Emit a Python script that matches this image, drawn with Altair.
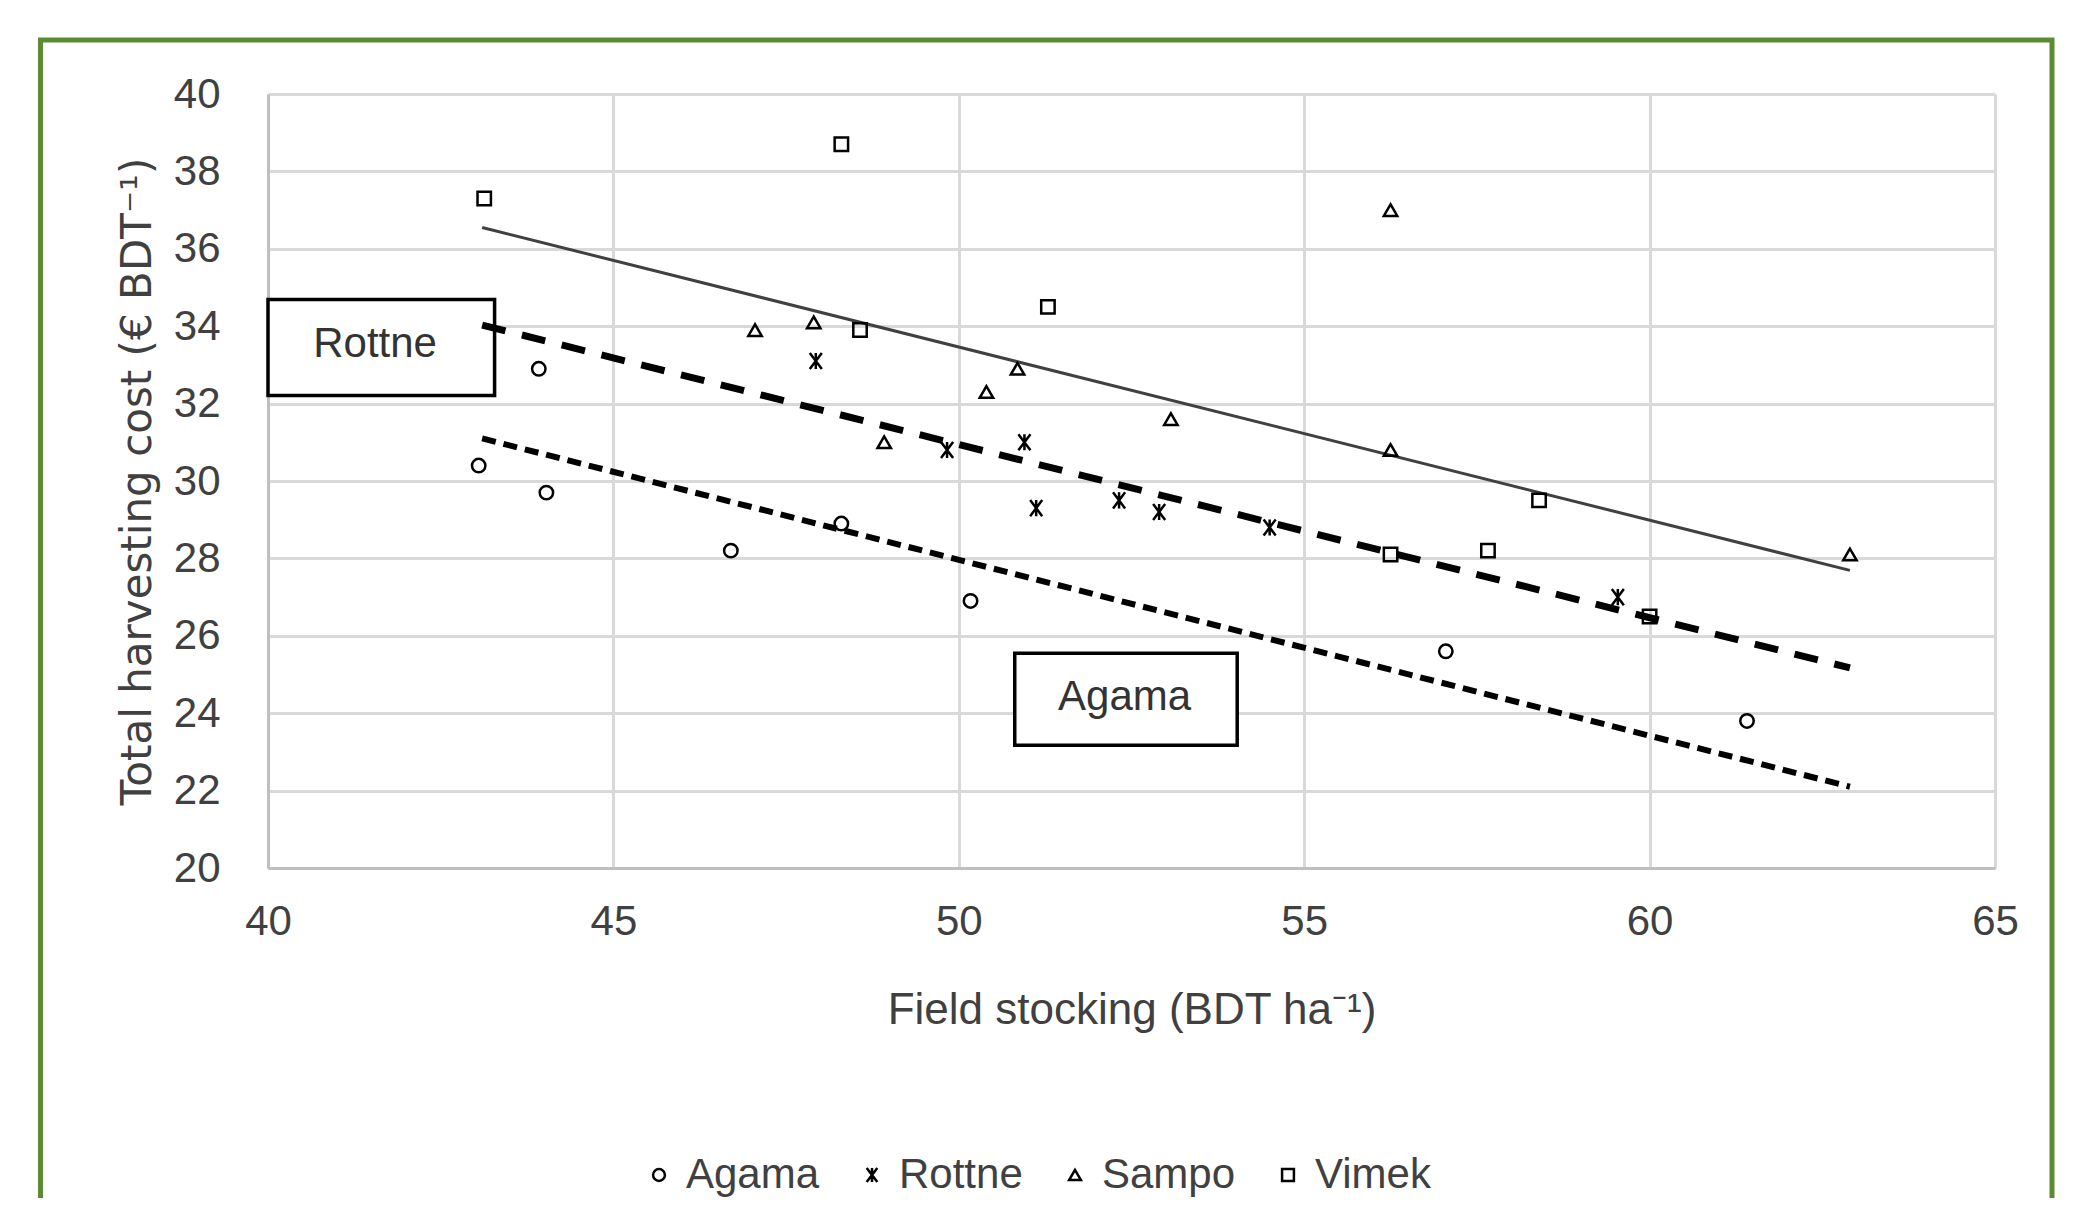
import altair as alt
import pandas as pd

# ---------------- data ----------------
machines = ["Agama", "Rottne", "Sampo", "Vimek"]

agama_x = [43.05, 43.92, 44.03, 46.70, 48.30, 50.17, 57.05, 61.41]
agama_y = [30.4, 32.9, 29.7, 28.2, 28.9, 26.9, 25.6, 23.8]

rottne_x = [47.93, 49.83, 50.95, 51.12, 52.32, 52.90, 54.50, 59.54]
rottne_y = [33.1, 30.8, 31.0, 29.3, 29.5, 29.2, 28.8, 27.0]

sampo_x = [47.05, 47.90, 48.92, 50.40, 50.85, 53.07, 56.25, 56.25, 62.90]
sampo_y = [33.9, 34.1, 31.0, 32.3, 32.9, 31.6, 37.0, 30.8, 28.1]

vimek_x = [43.13, 48.30, 48.57, 51.29, 56.25, 57.66, 58.40, 60.00]
vimek_y = [37.3, 38.7, 33.9, 34.5, 28.1, 28.2, 29.5, 26.5]

# trend lines (end points)
trend_names = ["Vimek", "Rottne", "Agama"]
trend_x_start = [43.1, 43.1, 43.1]
trend_x_end = [62.9, 62.9, 62.9]
trend_y_start = [36.55, 34.03, 31.10]
trend_y_end = [27.69, 25.17, 22.10]

# annotation boxes
box_labels = ["Rottne", "Agama"]
box_x1 = [40.0, 50.81]
box_x2 = [43.28, 54.03]
box_y1 = [34.69, 25.55]
box_y2 = [32.21, 23.17]
box_text_x = [41.55, 52.4]
box_text_y = [33.55, 24.42]

x_ticks = [40, 45, 50, 55, 60, 65]
y_ticks = [20, 22, 24, 26, 28, 30, 32, 34, 36, 38, 40]

# ---------------- tables ----------------
pts = pd.DataFrame({
    "Machine": ["Agama"] * len(agama_x) + ["Rottne"] * len(rottne_x)
    + ["Sampo"] * len(sampo_x) + ["Vimek"] * len(vimek_x),
    "stock": agama_x + rottne_x + sampo_x + vimek_x,
    "cost": agama_y + rottne_y + sampo_y + vimek_y,
})

trend_rows = []
for n, xs, xe, ys, ye in zip(trend_names, trend_x_start, trend_x_end, trend_y_start, trend_y_end):
    trend_rows.append({"series": n, "stock": xs, "cost": ys})
    trend_rows.append({"series": n, "stock": xe, "cost": ye})
trend = pd.DataFrame(trend_rows)

boxes = pd.DataFrame({"label": box_labels, "x1": box_x1, "x2": box_x2,
                      "y1": box_y1, "y2": box_y2, "tx": box_text_x, "ty": box_text_y})

LABEL_FONT = "Liberation Sans"
TXT = "#404040"

x_scale = alt.Scale(domain=[40, 65], nice=False, zero=False)
y_scale = alt.Scale(domain=[20, 40], nice=False, zero=False)

x_axis = alt.Axis(values=x_ticks, grid=True, gridColor="#d9d9d9", gridWidth=3,
                  domainColor="#bfbfbf", domainWidth=3, ticks=False,
                  labelFont=LABEL_FONT, labelFontSize=42, labelColor=TXT,
                  labelPadding=33, labelFlush=False,
                  title="Field stocking (BDT ha\u207b\u00b9)", titleFont=LABEL_FONT,
                  titleFontSize=44, titleFontWeight="normal", titleColor=TXT,
                  titlePadding=46)
y_axis = alt.Axis(values=y_ticks, grid=True, gridColor="#d9d9d9", gridWidth=3,
                  domainColor="#bfbfbf", domainWidth=3, ticks=False,
                  labelFont=LABEL_FONT, labelFontSize=42, labelColor=TXT,
                  labelPadding=48, labelFlush=False,
                  title="Total harvesting cost (\u20ac BDT\u207b\u00b9)", titleFont="DejaVu Sans",
                  titleFontSize=42, titleFontWeight="normal", titleColor=TXT,
                  titlePadding=14)

X = alt.X("stock:Q", scale=x_scale, axis=x_axis)
Y = alt.Y("cost:Q", scale=y_scale, axis=y_axis)

asterisk = "M-0.9,-1.2L0.9,1.2M0.9,-1.2L-0.9,1.2M0,-1.2L0,1.2"

# frame around the whole figure
frame = alt.Chart(pd.DataFrame({"f": [0]})).mark_rect(
    filled=False, stroke="#5b8c32", strokeWidth=5
).encode(x=alt.value(-227.5), x2=alt.value(1784), y=alt.value(-54), y2=alt.value(1150))

box_rect = alt.Chart(boxes).mark_rect(fill="white", stroke="black", strokeWidth=3.5).encode(
    x=alt.X("x1:Q", scale=x_scale, axis=x_axis), x2="x2:Q",
    y=alt.Y("y1:Q", scale=y_scale, axis=y_axis), y2="y2:Q")

box_text = alt.Chart(boxes).mark_text(font=LABEL_FONT, fontSize=42, color="#333333",
                                      align="center", baseline="middle").encode(
    x=alt.X("tx:Q", scale=x_scale, axis=x_axis),
    y=alt.Y("ty:Q", scale=y_scale, axis=y_axis), text="label:N")

line_vimek = alt.Chart(trend).transform_filter(alt.datum.series == "Vimek").mark_line(
    color="#404040", strokeWidth=3).encode(x=X, y=Y)
line_rottne = alt.Chart(trend).transform_filter(alt.datum.series == "Rottne").mark_line(
    color="black", strokeWidth=7, strokeDash=[24, 17]).encode(x=X, y=Y)
line_agama = alt.Chart(trend).transform_filter(alt.datum.series == "Agama").mark_line(
    color="black", strokeWidth=6, strokeDash=[14, 8]).encode(x=X, y=Y)

points = alt.Chart(pts).mark_point(filled=False, color="black", strokeWidth=2.5, size=180,
                                   opacity=1).encode(
    x=X, y=Y,
    shape=alt.Shape("Machine:N",
                    scale=alt.Scale(domain=machines,
                                    range=["circle", asterisk, "triangle-up", "square"]),
                    legend=alt.Legend(orient="none", direction="horizontal", title=None,
                                      legendX=370, legendY=1060, padding=0,
                                      labelFont=LABEL_FONT, labelFontSize=42, labelColor=TXT,
                                      labelOffset=6, columnPadding=31,
                                      symbolSize=140, symbolStrokeWidth=2.5,
                                      symbolStrokeColor="black", symbolFillColor="white")),
)

chart = alt.layer(frame, box_rect, line_vimek, line_rottne, line_agama, box_text, points).properties(
    width=1727, height=774,
    autosize=alt.AutoSizeParams(type="none"),
    padding={"left": 260, "top": 86, "right": 90, "bottom": 330},
    background="white",
).configure_view(stroke="transparent")

chart.save("out.html", embed_options={"renderer": "svg", "actions": False})
